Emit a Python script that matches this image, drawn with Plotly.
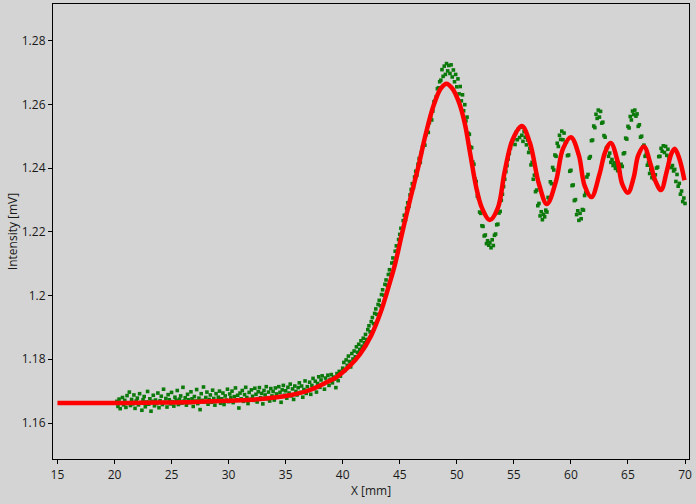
import numpy as np
import plotly.graph_objects as go

# ---- fitted curve (red), knots ----
fit_x = [15.0, 18.0, 21.0, 24.0, 27.0, 30.0, 32.0, 34.0, 35.5, 37.0, 38.5, 39.5,
         40.5, 41.5, 42.5, 43.3, 44.0, 44.6, 45.2, 45.9, 46.6, 47.3, 48.0, 48.6,
         49.1, 49.6, 50.2, 50.7, 51.2, 51.7, 52.2, 52.9, 53.6, 54.2, 54.9, 55.7,
         56.4, 57.2, 57.9, 58.7, 59.3, 60.0, 60.7, 61.2, 61.8, 62.5, 63.0, 63.5,
         64.1, 64.5, 65.0, 65.5, 65.9, 66.4, 67.0, 67.4, 67.9, 68.4, 68.8, 69.1,
         69.5, 69.95]
fit_y = [1.1663, 1.1663, 1.1663, 1.1664, 1.1666, 1.1670, 1.1673, 1.1680, 1.1688,
         1.1702, 1.1726, 1.1745, 1.1775, 1.1815, 1.1875, 1.1945, 1.2025, 1.2100,
         1.2195, 1.2300, 1.2400, 1.2510, 1.2600, 1.2650, 1.2665, 1.2650, 1.2605,
         1.2540, 1.2440, 1.2340, 1.2275, 1.2237, 1.2275, 1.2390, 1.2490, 1.2532,
         1.2480, 1.2350, 1.2287, 1.2360, 1.2460, 1.2497, 1.2440, 1.2345, 1.2309,
         1.2380, 1.2450, 1.2479, 1.2420, 1.2350, 1.2323, 1.2370, 1.2440, 1.2468,
         1.2410, 1.2360, 1.2331, 1.2390, 1.2445, 1.2461, 1.2430, 1.2362]

# ---- measured data (green), sampled every 0.1 mm from 20.2 to 70.0 ----
meas_x_start = 20.2
meas_x_step = 0.1
meas_y = [
    1.1668, 1.1652, 1.1675, 1.1645, 1.1662, 1.1680, 1.1657, 1.1671,
    1.1649, 1.1686, 1.1663, 1.1697, 1.1655, 1.1674, 1.1660, 1.1688, 1.1646, 1.1669,
    1.1678, 1.1657, 1.1692, 1.1664, 1.1640, 1.1673, 1.1683, 1.1651, 1.1666, 1.1699,
    1.1659, 1.1676, 1.1637, 1.1668, 1.1687, 1.1654, 1.1672, 1.1661, 1.1694, 1.1648,
    1.1670, 1.1684, 1.1658, 1.1706, 1.1665, 1.1677, 1.1650, 1.1689, 1.1673, 1.1660,
    1.1696, 1.1667, 1.1653, 1.1681, 1.1671, 1.1702, 1.1658, 1.1675, 1.1685, 1.1662,
    1.1712, 1.1669, 1.1679, 1.1656, 1.1690, 1.1673, 1.1664, 1.1698, 1.1676, 1.1652,
    1.1683, 1.1669, 1.1705, 1.1661, 1.1678, 1.1642, 1.1692, 1.1671, 1.1713, 1.1666,
    1.1680, 1.1697, 1.1659, 1.1674, 1.1688, 1.1665, 1.1703, 1.1677, 1.1656, 1.1692,
    1.1669, 1.1681, 1.1700, 1.1662, 1.1676, 1.1694, 1.1658, 1.1685, 1.1672, 1.1706,
    1.1667, 1.1691, 1.1679, 1.1700, 1.1664, 1.1683, 1.1710, 1.1673, 1.1687, 1.1647,
    1.1694, 1.1676, 1.1702, 1.1668, 1.1689, 1.1712, 1.1680, 1.1661, 1.1696, 1.1674,
    1.1704, 1.1684, 1.1671, 1.1709, 1.1690, 1.1666, 1.1698, 1.1711, 1.1679, 1.1693,
    1.1660, 1.1702, 1.1688, 1.1714, 1.1676, 1.1697, 1.1669, 1.1708, 1.1685, 1.1699,
    1.1672, 1.1710, 1.1691, 1.1681, 1.1714, 1.1696, 1.1665, 1.1704, 1.1718, 1.1687,
    1.1701, 1.1678, 1.1712, 1.1694, 1.1722, 1.1685, 1.1707, 1.1674, 1.1716, 1.1699,
    1.1688, 1.1711, 1.1726, 1.1696, 1.1716, 1.1681, 1.1705, 1.1732, 1.1693, 1.1714,
    1.1702, 1.1728, 1.1690, 1.1718, 1.1740, 1.1709, 1.1731, 1.1697, 1.1724, 1.1745,
    1.1712, 1.1735, 1.1748, 1.1722, 1.1706, 1.1741, 1.1729, 1.1750, 1.1718, 1.1737,
    1.1752, 1.1726, 1.1744, 1.1738, 1.1711, 1.1755, 1.1733, 1.1762, 1.1747, 1.1759,
    1.1772, 1.1790, 1.1765, 1.1798, 1.1781, 1.1810, 1.1793, 1.1776, 1.1818, 1.1801,
    1.1826, 1.1808, 1.1839, 1.1822, 1.1847, 1.1831, 1.1858, 1.1841, 1.1866, 1.1852,
    1.1878, 1.1862, 1.1893, 1.1905, 1.1886, 1.1918, 1.1931, 1.1912, 1.1944, 1.1958,
    1.1941, 1.1972, 1.1985, 1.1968, 1.2003, 1.2018, 1.2001, 1.2035, 1.2049, 1.2032,
    1.2066, 1.2081, 1.2067, 1.2102, 1.2118, 1.2104, 1.2139, 1.2156, 1.2140, 1.2176,
    1.2192, 1.2211, 1.2197, 1.2235, 1.2252, 1.2238, 1.2274, 1.2291, 1.2280, 1.2316,
    1.2333, 1.2351, 1.2339, 1.2372, 1.2390, 1.2378, 1.2412, 1.2430, 1.2418, 1.2449,
    1.2467, 1.2481, 1.2472, 1.2505, 1.2521, 1.2512, 1.2543, 1.2560, 1.2551, 1.2579,
    1.2608, 1.2611, 1.2624, 1.2649, 1.2652, 1.2671, 1.2676, 1.2709, 1.2688, 1.2720,
    1.2694, 1.2728, 1.2705, 1.2722, 1.2697, 1.2724, 1.2686, 1.2708, 1.2671, 1.2694,
    1.2655, 1.2680, 1.2633, 1.2656, 1.2611, 1.2630, 1.2580, 1.2599, 1.2548, 1.2560,
    1.2509, 1.2506, 1.2466, 1.2464, 1.2419, 1.2412, 1.2366, 1.2358, 1.2312, 1.2306,
    1.2262, 1.2258, 1.2219, 1.2217, 1.2187, 1.2190, 1.2163, 1.2172, 1.2158, 1.2166,
    1.2150, 1.2175, 1.2157, 1.2189, 1.2193, 1.2222, 1.2224, 1.2259, 1.2264, 1.2299,
    1.2318, 1.2342, 1.2365, 1.2389, 1.2408, 1.2429, 1.2446, 1.2463, 1.2478, 1.2487,
    1.2492, 1.2474, 1.2512, 1.2489, 1.2522, 1.2496, 1.2528, 1.2503, 1.2484, 1.2515,
    1.2497, 1.2473, 1.2488, 1.2449, 1.2461, 1.2410, 1.2418, 1.2365, 1.2378, 1.2326,
    1.2331, 1.2282, 1.2289, 1.2250, 1.2263, 1.2238, 1.2255, 1.2247, 1.2268, 1.2262,
    1.2308, 1.2302, 1.2357, 1.2351, 1.2402, 1.2394, 1.2441, 1.2437, 1.2478, 1.2468,
    1.2503, 1.2490, 1.2516, 1.2489, 1.2510, 1.2476, 1.2482, 1.2439, 1.2441, 1.2390,
    1.2393, 1.2345, 1.2347, 1.2298, 1.2301, 1.2254, 1.2266, 1.2236, 1.2258, 1.2241,
    1.2270, 1.2268, 1.2314, 1.2322, 1.2372, 1.2380, 1.2431, 1.2436, 1.2486, 1.2488,
    1.2532, 1.2527, 1.2569, 1.2556, 1.2582, 1.2560, 1.2578, 1.2541, 1.2544, 1.2502,
    1.2497, 1.2462, 1.2466, 1.2437, 1.2447, 1.2418, 1.2427, 1.2408, 1.2417, 1.2399,
    1.2407, 1.2392, 1.2404, 1.2386, 1.2412, 1.2405, 1.2445, 1.2448, 1.2494, 1.2491,
    1.2531, 1.2526, 1.2562, 1.2551, 1.2579, 1.2568, 1.2582, 1.2563, 1.2570, 1.2531,
    1.2536, 1.2497, 1.2500, 1.2466, 1.2472, 1.2437, 1.2443, 1.2409, 1.2418, 1.2383,
    1.2395, 1.2370, 1.2381, 1.2365, 1.2379, 1.2400, 1.2403, 1.2436, 1.2437, 1.2462,
    1.2453, 1.2470, 1.2449, 1.2468, 1.2440, 1.2459, 1.2430, 1.2437, 1.2402, 1.2408,
    1.2391, 1.2396, 1.2358, 1.2380, 1.2343, 1.2352, 1.2318, 1.2328, 1.2295, 1.2306,
    1.2289,
]
meas_x = np.round(meas_x_start + meas_x_step * np.arange(len(meas_y)), 2)

x_ticks = [15, 20, 25, 30, 35, 40, 45, 50, 55, 60, 65, 70]
y_ticks = [1.16, 1.18, 1.20, 1.22, 1.24, 1.26, 1.28]
y_tick_text = ["1.16", "1.18", "1.2", "1.22", "1.24", "1.26", "1.28"]

BG = "#d4d4d4"
FONT = "Open Sans, Noto Sans, DejaVu Sans, sans-serif"

fig = go.Figure()
fig.add_trace(go.Scatter(
    x=meas_x, y=meas_y, mode="markers",
    marker=dict(symbol="square", size=3.6, color="#0b7a0b", line=dict(width=0)),
    showlegend=False, hoverinfo="skip"))
fig.add_trace(go.Scatter(
    x=fit_x, y=fit_y, mode="lines",
    line=dict(color="#ff0000", width=4.5, shape="spline", smoothing=1.0),
    showlegend=False, hoverinfo="skip"))

axis_common = dict(
    showgrid=False, zeroline=False, showline=True, linecolor="#000000",
    linewidth=1.2, mirror=True, ticks="outside", ticklen=4, tickwidth=1,
    tickcolor="#000000", tickfont=dict(family=FONT, size=12, color="#1a1a1a"),
    automargin=False,
)

fig.update_layout(
    width=696, height=504,
    paper_bgcolor=BG, plot_bgcolor=BG,
    margin=dict(l=53, r=7, t=4, b=45),
    font=dict(family=FONT, size=12, color="#1a1a1a"),
    xaxis=dict(range=[14.61, 70.35], tickvals=x_ticks,
               title=dict(text="X [mm]", standoff=5,
                          font=dict(family=FONT, size=12, color="#1a1a1a")),
               **axis_common),
    yaxis=dict(range=[1.1487, 1.2915], tickvals=y_ticks, ticktext=y_tick_text,
               title=dict(text="Intensity [mV]", standoff=1,
                          font=dict(family=FONT, size=12, color="#1a1a1a")),
               **axis_common),
)

fig.write_html(
    "out.html",
    config={"displayModeBar": False},
    post_script="document.body.style.margin='0px';document.body.style.padding='0px';document.body.style.background='#d4d4d4';",
)
